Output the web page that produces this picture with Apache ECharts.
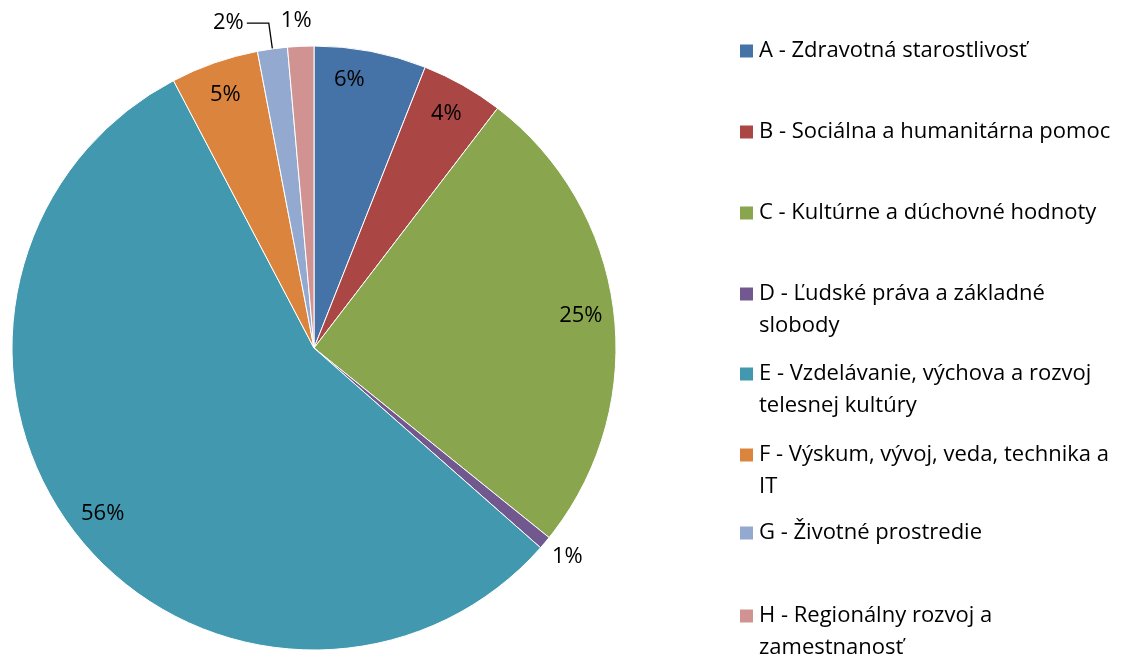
<!DOCTYPE html>
<html><head><meta charset="utf-8">
<script src="https://cdn.jsdelivr.net/npm/echarts@6/dist/echarts.min.js"></script>
<style>html,body{margin:0;padding:0;background:#fff}#c{width:1139px;height:657px}</style>
</head><body><div id="c"></div>
<script>
const categories = [
  'A - Zdravotná starostlivosť',
  'B - Sociálna a humanitárna pomoc',
  'C - Kultúrne a dúchovné hodnoty',
  'D - Ľudské práva a základné\nslobody',
  'E - Vzdelávanie, výchova a rozvoj\ntelesnej kultúry',
  'F - Výskum, vývoj, veda, technika a\nIT',
  'G - Životné prostredie',
  'H - Regionálny rozvoj a\nzamestnanosť'
];
const values = [6.0, 4.4, 25.4, 0.7, 55.8, 4.7, 1.6, 1.4];
const colors = ['#4572A7', '#AA4643', '#89A54E', '#71588F', '#4198AF', '#DB843D', '#93A9CF', '#D19392'];

const FONT = 'Open Sans';
const FS = 22;
const cx = 314, cy = 348, R = 302;
const insideIdx = [0, 1, 2, 4, 5];
const insideOff = {0: [-15, -4]};
const outsideCfg = {
  3: {len: 8, len2: 0, line: false, off: [-2, 9]},
  6: {len: 26, len2: 22, line: true, off: [0, 0]},
  7: {len: 26, len2: 0, line: false, off: [15, 0]}
};

const mainData = categories.map((n, i) => {
  const o = outsideCfg[i];
  return {
    name: n, value: values[i],
    itemStyle: {color: colors[i]},
    label: o ? {show: true, position: 'outside', distanceToLabelLine: 3, offset: o.off} : {show: false},
    labelLine: o ? {show: o.line, length: o.len, length2: o.len2, lineStyle: {color: '#000', width: 1.3}} : {show: false}
  };
});
const ringData = values.map((v, i) => ({
  value: v,
  label: {show: insideIdx.indexOf(i) >= 0, offset: insideOff[i] || [0, 0]}
}));

const legendCenters = [50, 131, 212, 293, 373, 454, 532, 615];
const LH = 32;
const SQ = 15;
const legends = categories.map((n, i) => {
  const two = n.indexOf('\n') >= 0;
  return {
    orient: 'vertical', left: 733,
    top: legendCenters[i] - LH / 2 - 4,
    data: [n], itemWidth: SQ, itemHeight: two ? SQ + LH : SQ,
    icon: two ? 'path://M0,0L15,0L15,15L0,15Z M0,47L0,47Z' : 'rect',
    selectedMode: false,
    textStyle: {fontFamily: FONT, fontSize: FS, color: '#000', lineHeight: LH}
  };
});

const chart = echarts.init(document.getElementById('c'), null, {renderer: 'canvas'});
chart.setOption({
  animation: false,
  legend: legends,
  series: [{
    type: 'pie', radius: [0, R], center: [cx, cy], startAngle: 90, clockwise: true,
    percentPrecision: 0, avoidLabelOverlap: false,
    itemStyle: {borderColor: '#fff', borderWidth: 1},
    label: {formatter: '{d}%', fontFamily: FONT, fontSize: FS, color: '#000'},
    emphasis: {disabled: true},
    data: mainData
  }, {
    type: 'pie', radius: [R * 0.76, R], center: [cx, cy], startAngle: 90, clockwise: true,
    percentPrecision: 0, silent: true,
    itemStyle: {color: 'rgba(0,0,0,0)'},
    label: {position: 'inside', formatter: '{d}%', fontFamily: FONT, fontSize: FS, color: '#000'},
    labelLine: {show: false},
    emphasis: {disabled: true},
    data: ringData
  }]
});
</script></body></html>
